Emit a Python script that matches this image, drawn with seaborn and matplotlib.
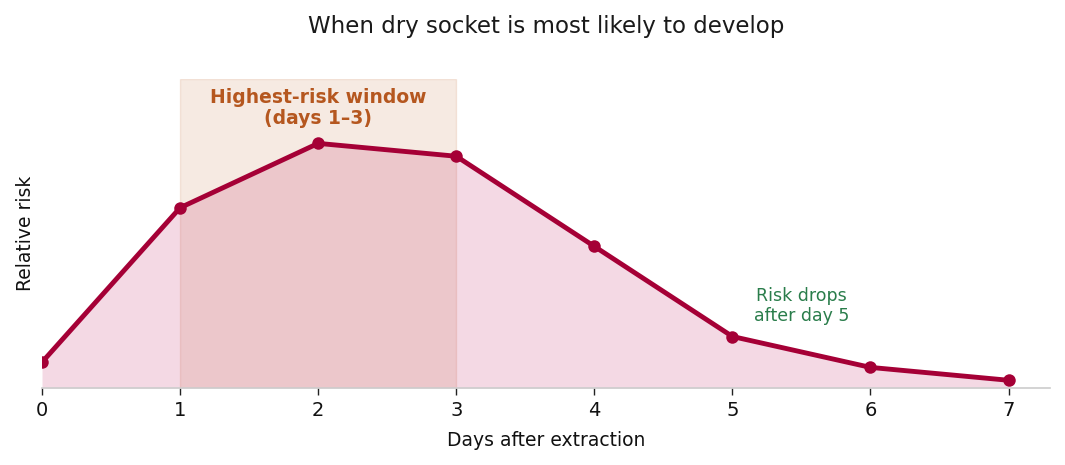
import matplotlib
matplotlib.use("Agg")
import matplotlib.pyplot as plt
import seaborn as sns
import pandas as pd

days = [0, 1, 2, 3, 4, 5, 6, 7]
risk = [10, 70, 95, 90, 55, 20, 8, 3]

title = "When dry socket is most likely to develop"
xlabel = "Days after extraction"
ylabel = "Relative risk"
window_label = "Highest-risk window\n(days 1–3)"
drop_label = "Risk drops\nafter day 5"

sns.set_theme(style="white")
plt.rcParams['font.family'] = ['DejaVu Sans']

df = pd.DataFrame({"day": days, "risk": risk})

line_color = "#A50036"
fill_color = "#B8004A"
band_color = "#C8743F"
text_band = "#B5571F"
green = "#2A7D4B"

fig = plt.figure(figsize=(10.65, 4.65), dpi=100)
ax = fig.add_axes([42/1065, 1-388/465, (1050-42)/1065, (388-79)/465])

ax.axvspan(1, 3, color=band_color, alpha=0.15, lw=1)
ax.fill_between(df["day"], df["risk"], 0, color=fill_color, alpha=0.15, lw=0)
sns.lineplot(data=df, x="day", y="risk", ax=ax, color=line_color, lw=3.5,
             marker="o", markersize=9, markeredgewidth=0)

ax.set_xlim(0, 7.3)
ax.set_ylim(0, 120)
ax.set_xticks(days)
ax.set_yticks([])
ax.tick_params(axis="x", labelsize=14, length=5, width=1, color="#222222",
               labelcolor="#111111", bottom=True, pad=4)
ax.set_xlabel(xlabel, fontsize=13.5, labelpad=8, color="#111111")
ax.set_ylabel(ylabel, fontsize=13.5, labelpad=5, color="#111111")

for s in ["top", "right", "left"]:
    ax.spines[s].set_visible(False)
ax.spines["bottom"].set_color("#cccccc")
ax.spines["bottom"].set_linewidth(1.2)

ax.text(2, 108.8, window_label, ha="center", va="center", fontsize=13.5,
        fontweight="bold", color=text_band, linespacing=1.1)
ax.text(5.5, 32, drop_label, ha="center", va="center", fontsize=12.5, color=green,
        linespacing=1.15)

fig.text(546/1065, 1-26/465, title, ha="center", va="center", fontsize=16.5, color="#1a1a1a")

fig.savefig("out.png", dpi=100)
